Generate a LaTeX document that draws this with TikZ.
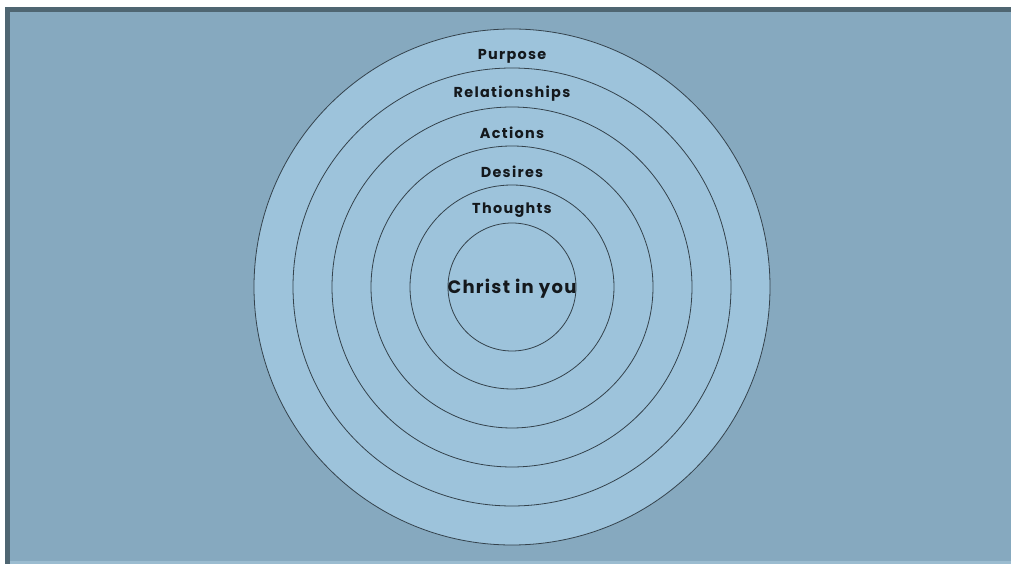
\documentclass[tikz,border=0pt]{standalone}
\usepackage{fontspec}
\usepackage{tikz}
\usepackage{xcolor}
\usetikzlibrary{positioning, backgrounds, calc}
\newfontfamily\ringfont[LetterSpace=9]{Poppins}
\newfontfamily\corefont[LetterSpace=7]{Poppins}
\definecolor{pagebg}{HTML}{86A9BF}
\definecolor{framedark}{HTML}{4F6672}
\definecolor{framelight}{HTML}{9BBCD0}
\definecolor{ringfill}{HTML}{9DC3DB}
\definecolor{ringline}{HTML}{34424C}
\definecolor{labelink}{HTML}{14181C}

\begin{document}
\begin{tikzpicture}[x=0.75pt, y=0.75pt,
    ringline/.style={draw=ringline, line width=0.6pt, fill=ringfill},
    ringlabel/.style={labelink, font=\ringfont\bfseries\fontsize{10.8}{12}\selectfont, inner sep=0pt},
    corelabel/.style={labelink, font=\corefont\bfseries\fontsize{13.5}{15}\selectfont, inner sep=0pt}]
        \useasboundingbox (0,0) rectangle (1011,564);

        % Fondo y marco
        \fill[white] (0,0) rectangle (1011,564);
        \fill[framedark] (5,0) rectangle (1011,557);
        \fill[pagebg] (10,0) rectangle (1011,552);
        \fill[framelight] (10,0) rectangle (1011,3);

        % Centro de los anillos
        \coordinate (ctr) at (512,277);

        % Anillos concentricos
        \foreach \r in {258,219,180,141,102,64}
            \draw[ringline] (ctr) circle[radius=\r];

        % Etiquetas de los anillos
        \node[ringlabel] (purpose) at (512,508) {Purpose};
        \node[ringlabel] (relations) at (512,470) {Relationships};
        \node[ringlabel] (actions) at (512,431) {Actions};
        \node[ringlabel] (desires) at (512,392) {Desires};
        \node[ringlabel] (thoughts) at (512,354) {Thoughts};

        % Etiqueta central
        \node[corelabel] (core) at (ctr) [yshift=-1.5pt] {Christ in you};
    \end{tikzpicture}
\end{document}
